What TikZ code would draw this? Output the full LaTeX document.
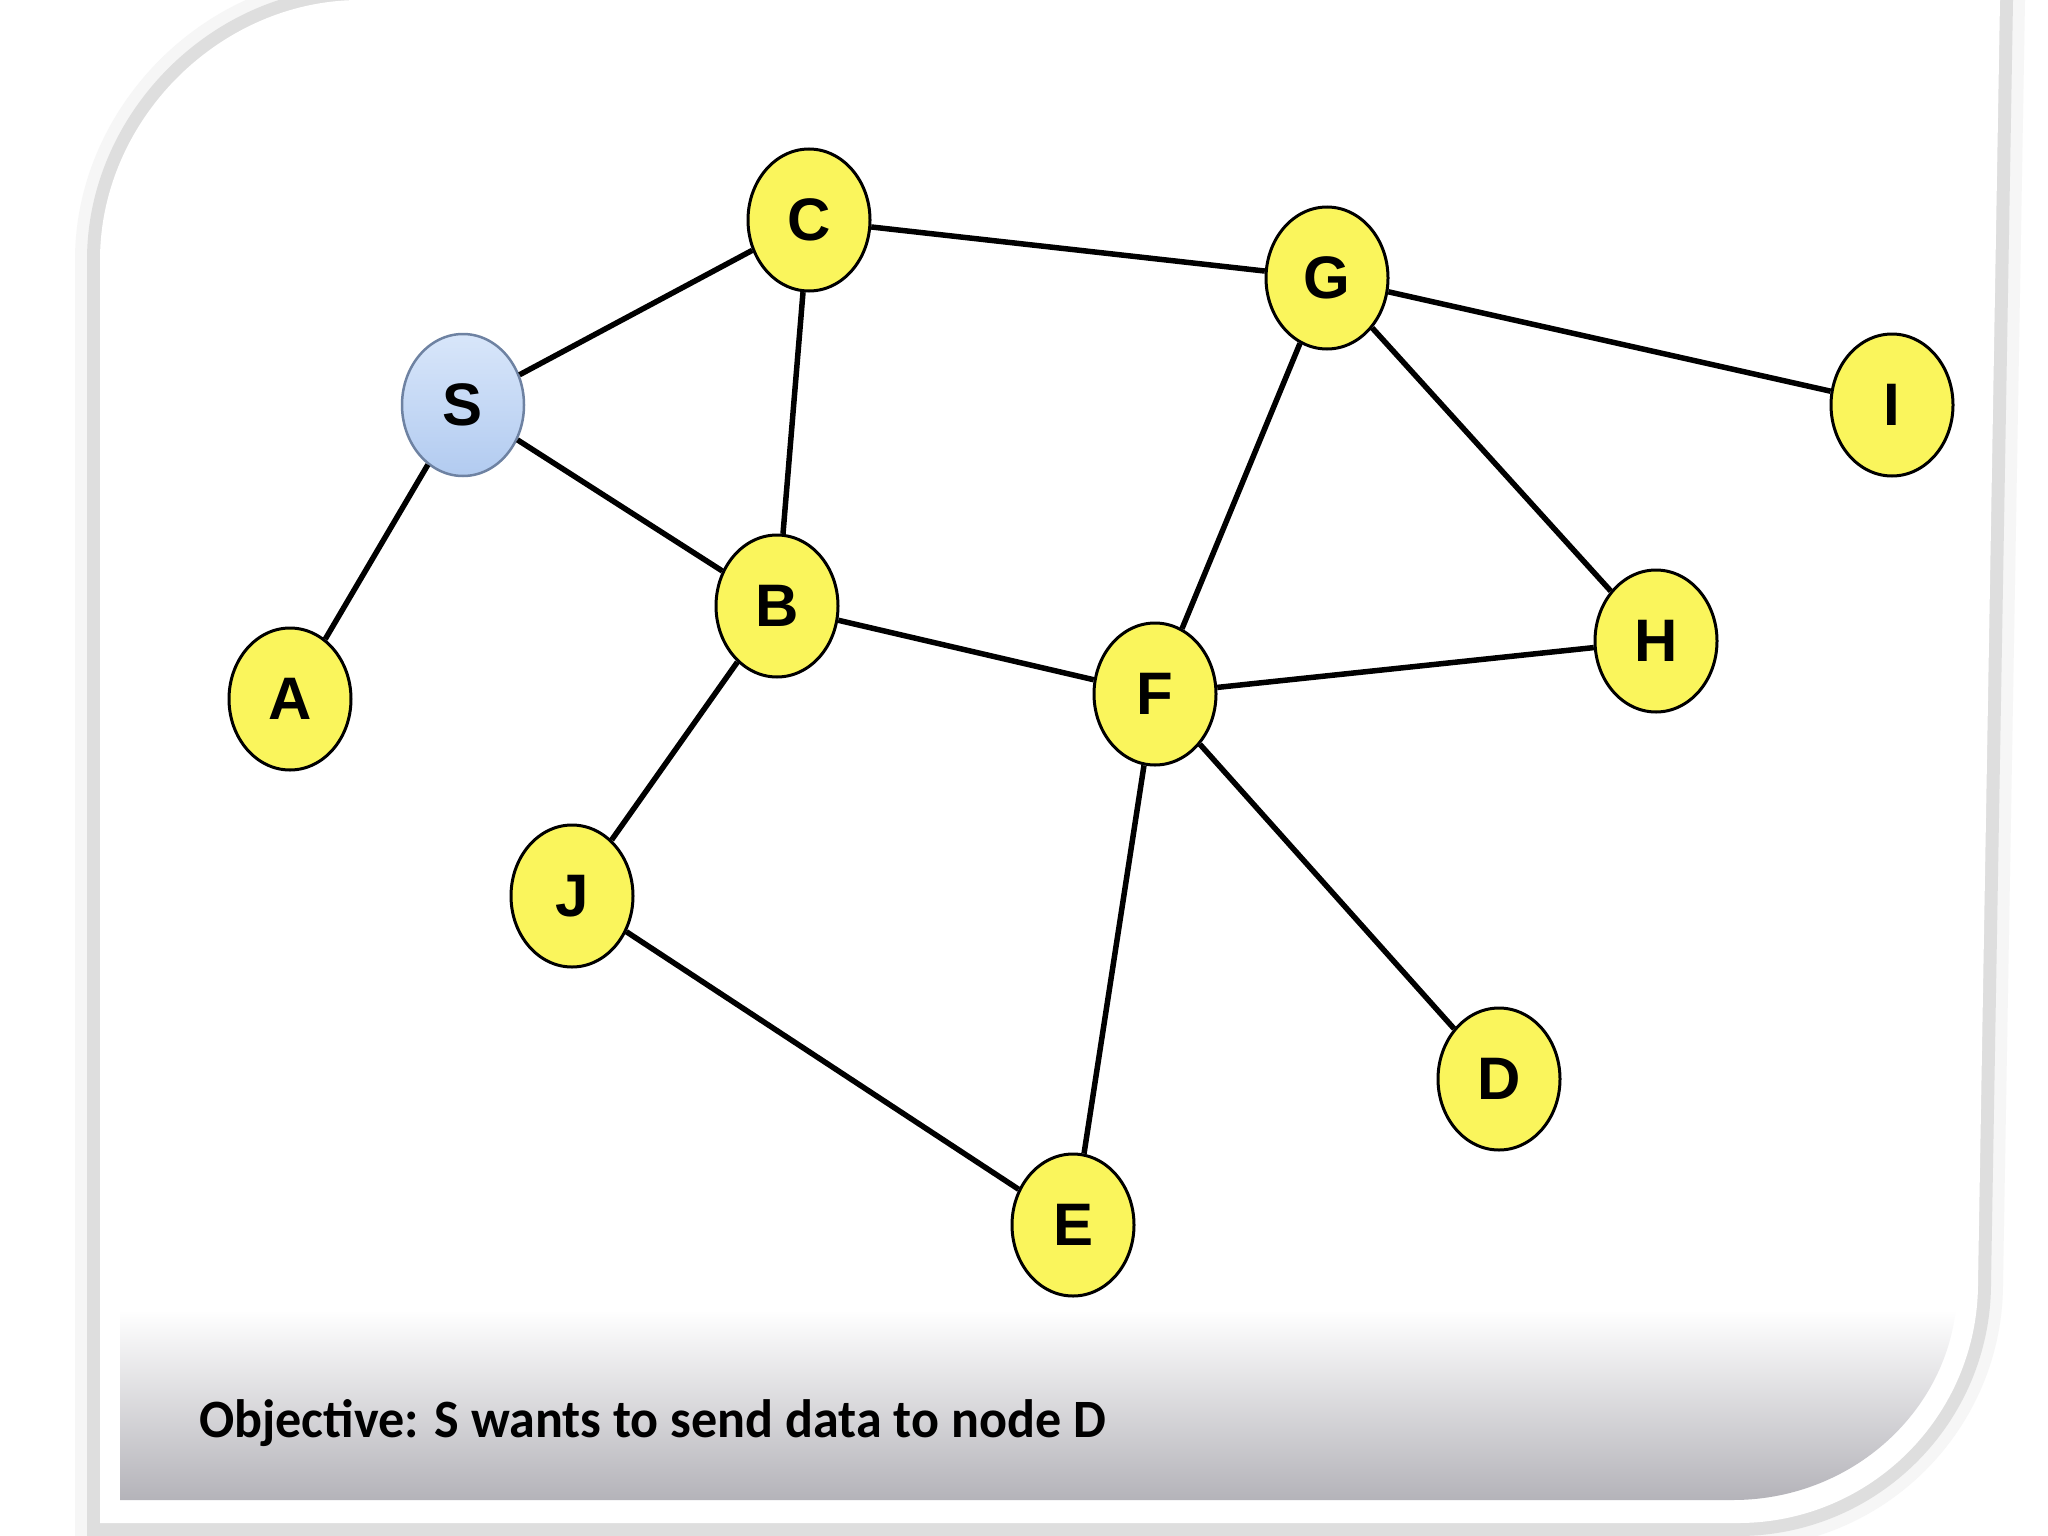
\documentclass[tikz,border=0pt]{standalone}
\usepackage{fontspec}
\setmainfont{Liberation Sans}
\newfontfamily\capfont{Carlito}
\usetikzlibrary{shapes.geometric}
\definecolor{nodeyellow}{RGB}{250,245,92}
\definecolor{srctop}{RGB}{216,230,250}
\definecolor{srcbot}{RGB}{178,203,240}
\definecolor{srcborder}{RGB}{110,130,162}
\definecolor{bandbot}{RGB}{180,179,185}
\definecolor{bandmid}{RGB}{246,246,247}
\begin{document}
\begin{tikzpicture}[x=1pt,y=-1pt,
  vtx/.style={ellipse, draw=black, line width=3pt, fill=nodeyellow,
    minimum width=122pt, minimum height=142pt, inner sep=0pt,
    font=\fontsize{60}{60}\selectfont\bfseries},
  src/.style={vtx, draw=srcborder, line width=2.5pt, top color=srctop, bottom color=srcbot},
  link/.style={line width=5.5pt, black},
  caption/.style={anchor=base west, inner sep=0pt,
    font=\capfont\bfseries\fontsize{54}{60}\selectfont}]
\useasboundingbox (0,0) rectangle (2048,1536);
\clip (0,0) rectangle (2048,1536);
\fill[white] (0,0) rectangle (2048,1536);
% frame with shadow
\def\framepath{(100,260) .. controls (100,120) and (220,0) .. (360,0) -- (2000,0) -- (1978,1283) .. controls (1978,1416) and (1870,1523) .. (1738,1523) -- (100,1523) -- cycle}
\draw[line width=50pt, draw=gray!7] \framepath;
\draw[line width=26pt, draw=gray!26] \framepath;
\fill[white] \framepath;
% bottom gradient band
\begin{scope}
\clip (120,1300) -- (1957,1300) -- (1957,1287) .. controls (1957,1404) and (1856,1500) .. (1733,1500) -- (120,1500) -- cycle;
\shade[top color=white, middle color=bandmid, bottom color=bandbot] (120,1310) rectangle (1960,1500);
\end{scope}
% nodes
\node[src] (S) at (463,405) {S};
\node[vtx] (C) at (809,220) {C};
\node[vtx] (G) at (1327,278) {G};
\node[vtx] (I) at (1892,405) {I};
\node[vtx] (B) at (777,606) {B};
\node[vtx] (A) at (290,699) {A};
\node[vtx] (F) at (1155,694) {F};
\node[vtx] (H) at (1656,641) {H};
\node[vtx] (J) at (572,896) {J};
\node[vtx] (D) at (1499,1079) {D};
\node[vtx] (E) at (1073,1225) {E};
% links
\draw[link] (S) -- (C);
\draw[link] (S) -- (B);
\draw[link] (S) -- (A);
\draw[link] (C) -- (B);
\draw[link] (C) -- (G);
\draw[link] (G) -- (I);
\draw[link] (G) -- (H);
\draw[link] (G) -- (F);
\draw[link] (B) -- (F);
\draw[link] (B) -- (J);
\draw[link] (F) -- (H);
\draw[link] (F) -- (E);
\draw[link] (F) -- (D);
\draw[link] (J) -- (E);
% caption
\node[caption] (cap) at (199,1437) {\scalebox{0.965}[1]{Objective: S wants to send data to node D}};
\end{tikzpicture}
\end{document}
